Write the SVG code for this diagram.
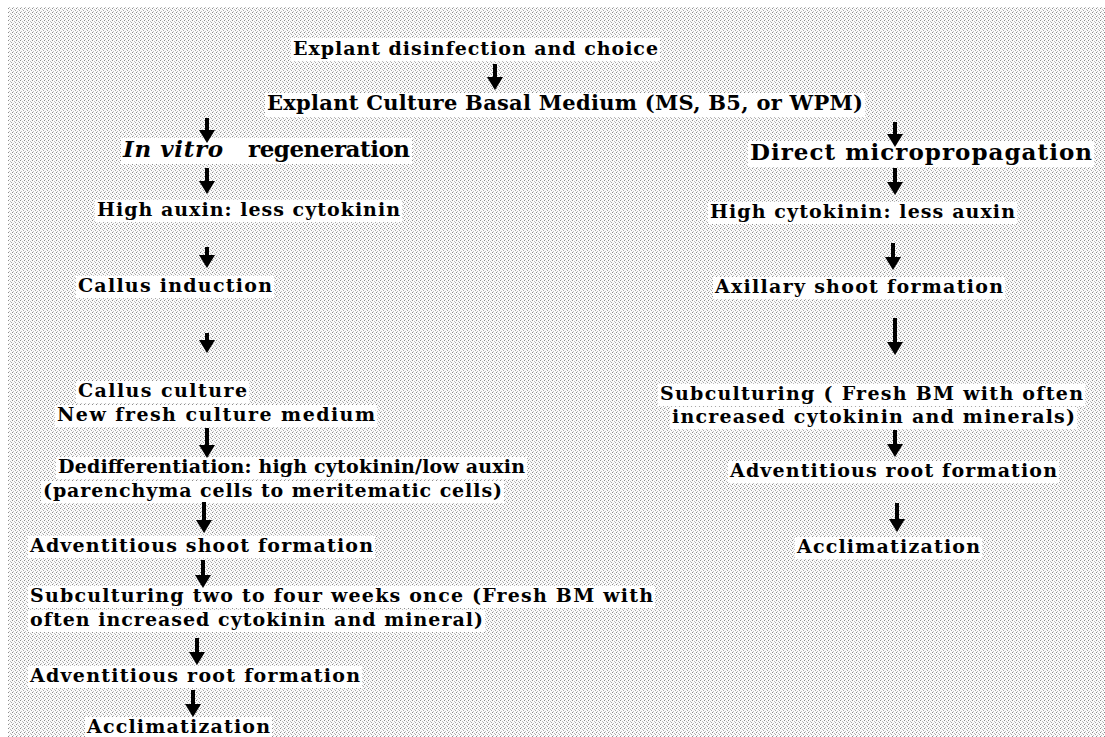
<svg xmlns="http://www.w3.org/2000/svg" width="1105" height="737" viewBox="0 0 1105 737">
<style>
.t{font-family:"DejaVu Serif","Liberation Serif",serif;font-weight:bold;font-size:19px;fill:#000}
.m{font-size:21px}
.h{font-size:23px}
.i{font-style:italic}
.bg{fill:#fff}
.ar{stroke:#000;stroke-width:4;fill:none;marker-end:url(#head)}
</style>
<defs>
<pattern id="stip" width="4" height="4" patternUnits="userSpaceOnUse">
<rect width="4" height="4" fill="#fbfbfb"/>
<rect x="0" y="0" width="1" height="1" fill="#8c8c8c"/>
<rect x="2" y="1" width="1" height="1" fill="#bdbdbd"/>
<rect x="1" y="3" width="1" height="1" fill="#c2c2c2"/>
<rect x="3" y="2" width="1" height="1" fill="#a8a8a8"/>
</pattern>
<marker id="head" viewBox="0 -8 13 16" markerWidth="13" markerHeight="16" refX="0" refY="0" markerUnits="userSpaceOnUse" orient="auto">
<path d="M0,-8 L13,0 L0,8 Z" fill="#000"/>
</marker>
</defs>
<rect width="1105" height="737" fill="#fff"/>
<rect x="8" y="7" width="1097" height="730" fill="url(#stip)"/>

<g id="n1"><rect class="bg" x="291" y="38" width="369" height="23"/><text class="t" x="293" y="55" textLength="365" lengthAdjust="spacing">Explant disinfection and choice</text></g>
<g id="n2"><rect class="bg" x="265" y="93" width="600" height="24"/><text class="t m" x="267" y="110" textLength="596" lengthAdjust="spacing">Explant Culture Basal Medium (MS, B5, or WPM)</text></g>
<g id="n3"><rect class="bg" x="121" y="138" width="291" height="26"/><text class="t h i" x="123" y="157" textLength="100" lengthAdjust="spacing">In vitro</text><text class="t h" x="248" y="157" textLength="162" lengthAdjust="spacing">regeneration</text></g>
<g id="n4"><rect class="bg" x="95" y="200" width="307" height="22"/><text class="t" x="97" y="216" textLength="303" lengthAdjust="spacing">High auxin: less cytokinin</text></g>
<g id="n5"><rect class="bg" x="76" y="276" width="198" height="22"/><text class="t" x="78" y="292" textLength="194" lengthAdjust="spacing">Callus induction</text></g>
<g id="n6"><rect class="bg" x="76" y="381" width="173" height="22"/><rect class="bg" x="55" y="405" width="322" height="22"/><text class="t" x="78" y="397" textLength="169" lengthAdjust="spacing">Callus culture</text><text class="t" x="57" y="421" textLength="318" lengthAdjust="spacing">New fresh culture medium</text></g>
<g id="n7"><rect class="bg" x="56" y="457" width="471" height="22"/><rect class="bg" x="41" y="481" width="463" height="22"/><text class="t" x="58" y="473" textLength="467" lengthAdjust="spacing">Dedifferentiation: high cytokinin/low auxin</text><text class="t" x="43" y="497" textLength="459" lengthAdjust="spacing">(parenchyma cells to meritematic cells)</text></g>
<g id="n8"><rect class="bg" x="28" y="536" width="347" height="22"/><text class="t" x="30" y="552" textLength="343" lengthAdjust="spacing">Adventitious shoot formation</text></g>
<g id="n9"><rect class="bg" x="28" y="586" width="627" height="22"/><rect class="bg" x="28" y="610" width="457" height="22"/><text class="t" x="30" y="602" textLength="623" lengthAdjust="spacing">Subculturing two to four weeks once (Fresh BM with</text><text class="t" x="30" y="626" textLength="453" lengthAdjust="spacing">often increased cytokinin and mineral)</text></g>
<g id="n10"><rect class="bg" x="28" y="666" width="334" height="22"/><text class="t" x="30" y="682" textLength="330" lengthAdjust="spacing">Adventitious root formation</text></g>
<g id="n11"><rect class="bg" x="85" y="717" width="187" height="20"/><text class="t" x="87" y="733" textLength="183" lengthAdjust="spacing">Acclimatization</text></g>

<g id="r1"><rect class="bg" x="748" y="141" width="346" height="26"/><text class="t h" x="750" y="160" textLength="342" lengthAdjust="spacing">Direct micropropagation</text></g>
<g id="r2"><rect class="bg" x="708" y="202" width="309" height="22"/><text class="t" x="710" y="218" textLength="305" lengthAdjust="spacing">High cytokinin: less auxin</text></g>
<g id="r3"><rect class="bg" x="713" y="277" width="292" height="22"/><text class="t" x="715" y="293" textLength="288" lengthAdjust="spacing">Axillary shoot formation</text></g>
<g id="r4"><rect class="bg" x="658" y="384" width="427" height="22"/><rect class="bg" x="670" y="407" width="407" height="22"/><text class="t" x="660" y="400" textLength="423" lengthAdjust="spacing">Subculturing ( Fresh BM with often</text><text class="t" x="672" y="423" textLength="403" lengthAdjust="spacing">increased cytokinin and minerals)</text></g>
<g id="r5"><rect class="bg" x="728" y="461" width="331" height="22"/><text class="t" x="730" y="477" textLength="327" lengthAdjust="spacing">Adventitious root formation</text></g>
<g id="r6"><rect class="bg" x="795" y="537" width="187" height="22"/><text class="t" x="797" y="553" textLength="183" lengthAdjust="spacing">Acclimatization</text></g>

<g id="connectors">
<line class="ar" x1="495" y1="64" x2="495" y2="77"/>
<line class="ar" x1="207" y1="118" x2="207" y2="130"/>
<line class="ar" x1="895" y1="122" x2="895" y2="134"/>
<line class="ar" x1="207" y1="168" x2="207" y2="181"/>
<line class="ar" x1="207" y1="247" x2="207" y2="255"/>
<line class="ar" x1="207" y1="333" x2="207" y2="340"/>
<line class="ar" x1="207" y1="428" x2="207" y2="445"/>
<line class="ar" x1="204" y1="502" x2="204" y2="520"/>
<line class="ar" x1="203" y1="560" x2="203" y2="575"/>
<line class="ar" x1="197" y1="638" x2="197" y2="652"/>
<line class="ar" x1="193" y1="690" x2="193" y2="704"/>
<line class="ar" x1="895" y1="168" x2="895" y2="182"/>
<line class="ar" x1="893" y1="243" x2="893" y2="257"/>
<line class="ar" x1="895" y1="318" x2="895" y2="342"/>
<line class="ar" x1="895" y1="430" x2="895" y2="444"/>
<line class="ar" x1="897" y1="503" x2="897" y2="519"/>
</g>
</svg>
